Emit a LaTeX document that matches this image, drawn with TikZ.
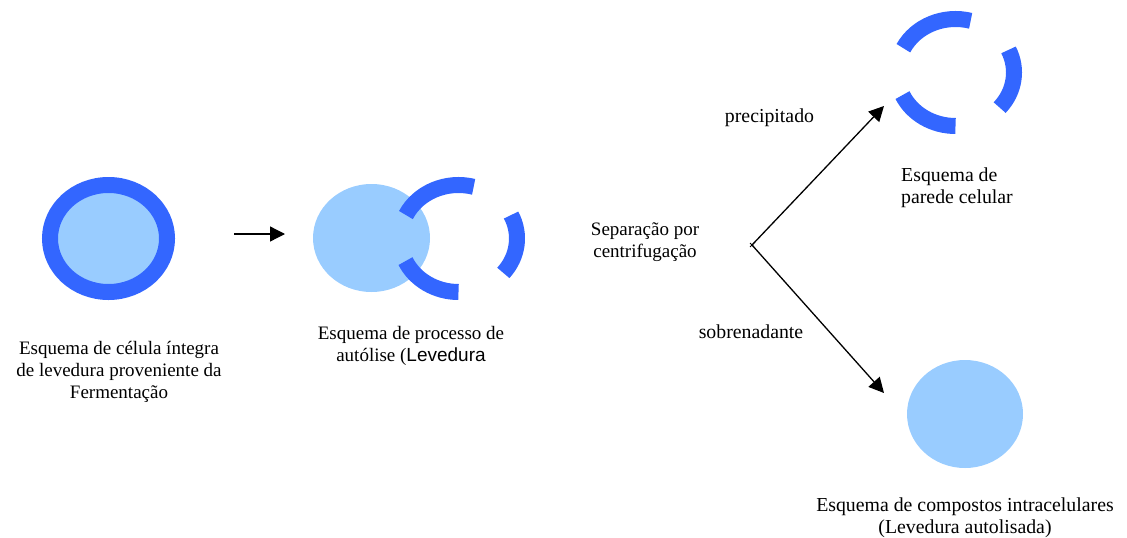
\documentclass[tikz,border=0pt]{standalone}
\usepackage{fontspec}
\setmainfont{Liberation Serif}
\newfontfamily\arialfont{Liberation Sans}
\usetikzlibrary{arrows.meta}
\definecolor{wallblue}{HTML}{3366FF}
\definecolor{cytoblue}{HTML}{99CCFF}
\tikzset{
  wall/.style={draw=wallblue,line width=16pt,line cap=butt},
  cyto/.style={fill=cytoblue},
  flow/.style={draw=black,line width=1.3pt,-{Triangle[length=15pt,width=15pt]}},
  caption/.style={inner sep=0pt,anchor=base,font=\fontsize{19}{22}\selectfont,align=center},
  biglabel/.style={caption,font=\fontsize{19.8}{22}\selectfont}
}
% one wall fragment: arc of the cell wall between two angles
\newcommand{\wallpiece}[3]{%
  \draw[wall] ([shift={(#2:58.5pt and 53.5pt)}]#1) arc[start angle=#2,end angle=#3,x radius=58.5pt,y radius=53.5pt];}
\begin{document}
\begin{tikzpicture}[x=1pt,y=-1pt]
\useasboundingbox (0,0) rectangle (1127,538);

% intact cell
\coordinate (c1) at (108.5,238.5);
\fill[cyto] (c1) ellipse[x radius=58.5pt,y radius=53.5pt];
\draw[wall] (c1) ellipse[x radius=58.5pt,y radius=53.5pt];

% autolysis: contents leaving the broken wall
\coordinate (c2) at (458.5,238.5);
\fill[cyto] (371.5,238) ellipse[x radius=58.5pt,y radius=54pt];
\wallpiece{c2}{154}{75}
\wallpiece{c2}{26}{-40}
\wallpiece{c2}{205}{270}

% cell wall fraction
\coordinate (c3) at (955.5,72.5);
\wallpiece{c3}{153}{75}
\wallpiece{c3}{25}{-41}
\wallpiece{c3}{205}{270}

% intracellular compounds
\fill[cyto] (965,414) ellipse[x radius=58pt,y radius=54pt];

% arrows
\coordinate (a1s) at (234,234);
\coordinate (a1e) at (285,234);
\draw[flow] (a1s) -- (a1e);
\coordinate (split) at (752,245);
\coordinate (up) at (884,106);
\coordinate (down) at (884,393);
\draw[flow] (split) -- (up);
\draw[flow] (split) -- (down);
\draw[line width=0.8pt] (750,243) -- (754,247) (750,247) -- (754,243);

% captions (anchored on the baseline of their last line)
\node[caption] (t1) at (119,398) {Esquema de célula íntegra\\de levedura proveniente da\\Fermentação};
\node[caption] (t2) at (411,361) {Esquema de processo de\\autólise ({\arialfont Levedura}};
\node[caption] (t3) at (645,257) {Separação por\\centrifugação};
\node[biglabel] (t4) at (769.5,122) {precipitado};
\node[biglabel] (t5) at (751,338) {sobrenadante};
\node[biglabel,align=left,anchor=base west] (t6) at (901,203) {Esquema de\\parede celular};
\node[biglabel] (t7) at (965,533) {Esquema de compostos intracelulares\\(Levedura autolisada)};
\end{tikzpicture}
\end{document}
